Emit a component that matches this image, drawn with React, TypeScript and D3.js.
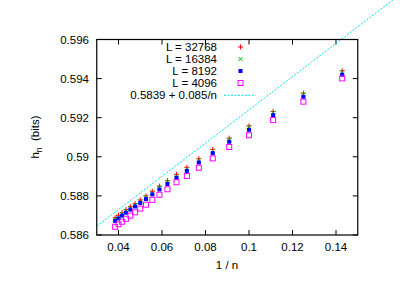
import React from "react";
import * as d3 from "d3";

// system sizes n (x = 1/n)
const nValues = [7, 8, 9, 10, 11, 12, 13, 14, 15, 16, 17, 18, 19, 20, 21, 22, 23, 24, 25, 26];

const h32768 = [0.5944, 0.59325, 0.59232, 0.59158, 0.59095, 0.59038, 0.5899, 0.58946, 0.5891, 0.58878,
  0.5885, 0.58824, 0.588, 0.58779, 0.58761, 0.58745, 0.5873, 0.58715, 0.58701, 0.58688];
const h16384 = [0.59433, 0.59318, 0.59225, 0.59151, 0.59088, 0.59031, 0.58983, 0.58939, 0.58903, 0.58871,
  0.58843, 0.58817, 0.58793, 0.58772, 0.58754, 0.58738, 0.58723, 0.58708, 0.58694, 0.58681];
const h8192 = [0.5942, 0.59307, 0.59213, 0.59138, 0.59077, 0.59019, 0.58971, 0.58928, 0.58893, 0.58861,
  0.58833, 0.58808, 0.58784, 0.58764, 0.58746, 0.5873, 0.58714, 0.58699, 0.58685, 0.58672];
const h4096 = [0.59401, 0.59282, 0.59188, 0.5911, 0.5905, 0.58992, 0.58944, 0.58902, 0.5887, 0.58834,
  0.58806, 0.5878, 0.58755, 0.58735, 0.58716, 0.58699, 0.58683, 0.58668, 0.58655, 0.58642];

const xTicks = [0.04, 0.06, 0.08, 0.1, 0.12, 0.14];
const yTicks = [0.586, 0.588, 0.59, 0.592, 0.594, 0.596];

// fit line: 0.5839 + 0.085/n
const fitA = 0.5839;
const fitB = 0.085;

const font = "'Liberation Sans', Arial, sans-serif";

const Marker = ({ kind, x, y }) => {
  if (kind === "plus")
    return (
      <g stroke="#ff0000" strokeWidth={1}>
        <line x1={x - 2.5} x2={x + 2.5} y1={y} y2={y} />
        <line x1={x} x2={x} y1={y - 2.5} y2={y + 2.5} />
      </g>
    );
  if (kind === "cross")
    return (
      <g stroke="#00c000" strokeWidth={1}>
        <line x1={x - 2} x2={x + 2} y1={y - 2} y2={y + 2} />
        <line x1={x - 2} x2={x + 2} y1={y + 2} y2={y - 2} />
      </g>
    );
  if (kind === "fsq")
    return <rect x={x - 2} y={y - 2} width={4} height={4} fill="#0000ff" />;
  return <rect x={x - 2.5} y={y - 2.5} width={5} height={5} fill="none" stroke="#ff00ff" strokeWidth={1} />;
};

export default function App() {
  const width = 415;
  const height = 294;
  const left = 96.75, right = 357.75, top = 39.5, bottom = 235;

  const x = d3.scaleLinear().domain([0.03, 0.15]).range([left, right]);
  const y = d3.scaleLinear().domain([0.586, 0.596]).range([bottom, top]);

  const series = [
    { label: "L = 32768", values: h32768, kind: "plus" },
    { label: "L = 16384", values: h16384, kind: "cross" },
    { label: "L = 8192", values: h8192, kind: "fsq" },
    { label: "L = 4096", values: h4096, kind: "osq" },
  ];

  // fit line from left edge to where it leaves the top
  const xEnd = fitB / (0.596 - fitA);
  const fitPts = [0.03, xEnd].map((v) => [x(v), y(fitA + fitB * v)]);
  const fitPath = d3.line()(fitPts);

  const tick = 5;

  return (
    <svg width={width} height={height} style={{ position: "absolute", left: 0, top: 0, background: "#fff" }}
      fontFamily={font} fontSize={11.5}>
      {/* ticks, mirrored on all sides */}
      {xTicks.map((t) => (
        <g key={"x" + t} stroke="#000" strokeWidth={1}>
          <line x1={x(t)} x2={x(t)} y1={bottom} y2={bottom - tick} />
          <line x1={x(t)} x2={x(t)} y1={top} y2={top + tick} />
        </g>
      ))}
      {yTicks.map((t) => (
        <g key={"y" + t} stroke="#000" strokeWidth={1}>
          <line x1={left} x2={left + tick} y1={y(t)} y2={y(t)} />
          <line x1={right} x2={right - tick} y1={y(t)} y2={y(t)} />
        </g>
      ))}
      {xTicks.map((t) => (
        <text key={"xl" + t} x={x(t)} y={251} textAnchor="middle" fill="#000">
          {d3.format("")(t)}
        </text>
      ))}
      {yTicks.map((t) => (
        <text key={"yl" + t} x={89} y={y(t) + 4} textAnchor="end" fill="#000">
          {d3.format("")(t)}
        </text>
      ))}

      {/* fit line */}
      <path d={fitPath} fill="none" stroke="#00e0e8" strokeWidth={1} strokeDasharray="2,1.5" />

      {/* data points */}
      {series.map((s) =>
        s.values.map((v, i) => <Marker key={s.kind + i} kind={s.kind} x={x(1 / nValues[i])} y={y(v)} />)
      )}

      {/* legend */}
      {series.map((s, i) => (
        <g key={"lg" + i}>
          <text x={217} y={51 + i * 12} textAnchor="end" fill="#000">{s.label}</text>
          <Marker kind={s.kind} x={240.5} y={47 + i * 12} />
        </g>
      ))}
      <text x={217} y={99} textAnchor="end" fill="#000">0.5839 + 0.085/n</text>
      <line x1={224} x2={256} y1={95.3} y2={95.3} stroke="#00e0e8" strokeWidth={1} strokeDasharray="2,1.5" />

      {/* frame */}
      <rect x={left} y={top} width={right - left} height={bottom - top} fill="none" stroke="#000" strokeWidth={1.2} />

      {/* axis labels */}
      <text x={227} y={269} textAnchor="middle" fill="#000">1 / n</text>
      <text transform={`translate(39,137) rotate(-90)`} textAnchor="middle" fill="#000" style={{ whiteSpace: "pre" }}>
        h<tspan fontSize={8.5} dy={3}>n</tspan><tspan dy={-3}>{"  (bits)"}</tspan>
      </text>
    </svg>
  );
}
